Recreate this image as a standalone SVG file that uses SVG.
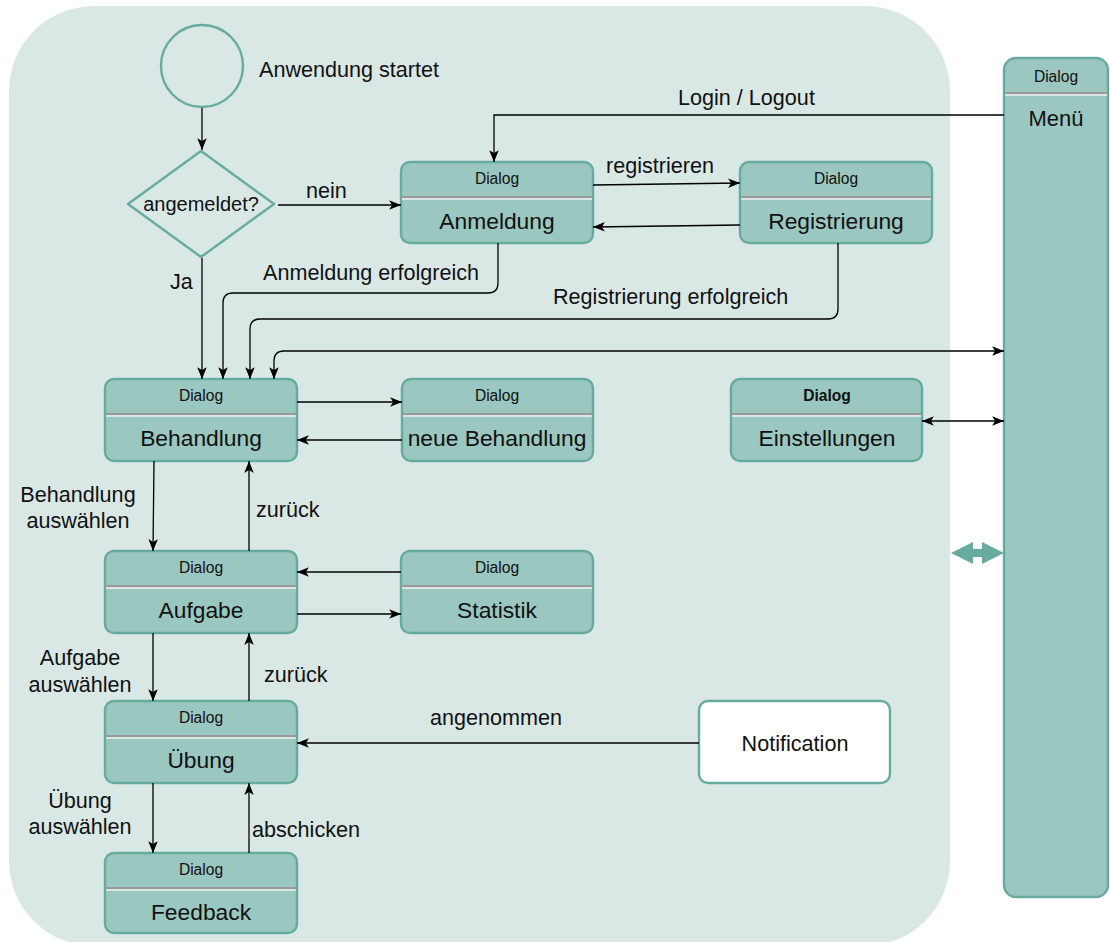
<svg xmlns="http://www.w3.org/2000/svg" width="1110" height="942" viewBox="0 0 1110 942">
<defs>
<marker id="a" viewBox="0 0 10 8" refX="10" refY="4" markerWidth="12" markerHeight="9.5" markerUnits="userSpaceOnUse" orient="auto-start-reverse"><path d="M0,0 L10,4 L0,8 L2.5,4 Z" fill="#000"/></marker>
<style>
.bg{fill:#D9E8E5}
.nd{fill:#9AC7BF;stroke:#67AB9F;stroke-width:2.4}
.sep{stroke:#999;stroke-width:2}
.sepw{stroke:#F0F0F0;stroke-width:1.5}
.hd{font-family:"Liberation Sans",Arial,sans-serif;font-size:15.6px;fill:#111;text-anchor:middle}
.tt{font-family:"Liberation Sans",Arial,sans-serif;font-size:22.8px;fill:#111;text-anchor:middle}
.lb{font-family:"Liberation Sans",Arial,sans-serif;font-size:21.6px;fill:#111}
.c{fill:none;stroke:#000;stroke-width:1.3}
.cm{text-anchor:middle}
</style>
</defs>
<rect x="0" y="0" width="1110" height="942" fill="#fff"/>
<rect class="bg" x="9" y="6" width="941" height="940" rx="85" ry="85"/>

<g id="start">
<circle cx="202" cy="66" r="41" fill="none" stroke="#67AB9F" stroke-width="2.4"/>
<text class="lb" x="259" y="77">Anwendung startet</text>
</g>
<g id="decision">
<path d="M201,151 L274,204 L201,257 L128,204 Z" fill="none" stroke="#67AB9F" stroke-width="2.4" stroke-linejoin="round"/>
<text class="lb cm" x="201" y="211" style="font-size:20px">angemeldet?</text>
</g>

<g id="anmeldung">
<rect class="nd" x="401" y="162" width="192" height="81" rx="9"/>
<line class="sep" x1="402" y1="197" x2="592" y2="197"/><line class="sepw" x1="402" y1="199" x2="592" y2="199"/>
<text class="hd" x="497" y="184">Dialog</text>
<text class="tt" x="497" y="229">Anmeldung</text>
</g>
<g id="registrierung">
<rect class="nd" x="740" y="162" width="192" height="81" rx="9"/>
<line class="sep" x1="741" y1="197" x2="931" y2="197"/><line class="sepw" x1="741" y1="199" x2="931" y2="199"/>
<text class="hd" x="836" y="184">Dialog</text>
<text class="tt" x="836" y="229">Registrierung</text>
</g>
<g id="behandlung">
<rect class="nd" x="105" y="379" width="192" height="82" rx="9"/>
<line class="sep" x1="106" y1="414" x2="296" y2="414"/><line class="sepw" x1="106" y1="416" x2="296" y2="416"/>
<text class="hd" x="201" y="401">Dialog</text>
<text class="tt" x="201" y="446">Behandlung</text>
</g>
<g id="neueBehandlung">
<rect class="nd" x="402" y="379" width="191" height="82" rx="9"/>
<line class="sep" x1="403" y1="414" x2="592" y2="414"/><line class="sepw" x1="403" y1="416" x2="592" y2="416"/>
<text class="hd" x="497" y="401">Dialog</text>
<text class="tt" x="497" y="446">neue Behandlung</text>
</g>
<g id="einstellungen">
<rect class="nd" x="731" y="379" width="191" height="82" rx="9"/>
<line class="sep" x1="732" y1="414" x2="921" y2="414"/><line class="sepw" x1="732" y1="416" x2="921" y2="416"/>
<text class="hd" x="827" y="401" font-weight="bold">Dialog</text>
<text class="tt" x="827" y="446">Einstellungen</text>
</g>
<g id="aufgabe">
<rect class="nd" x="105" y="551" width="192" height="82" rx="9"/>
<line class="sep" x1="106" y1="586" x2="296" y2="586"/><line class="sepw" x1="106" y1="588" x2="296" y2="588"/>
<text class="hd" x="201" y="573">Dialog</text>
<text class="tt" x="201" y="618">Aufgabe</text>
</g>
<g id="statistik">
<rect class="nd" x="401" y="551" width="192" height="82" rx="9"/>
<line class="sep" x1="402" y1="586" x2="592" y2="586"/><line class="sepw" x1="402" y1="588" x2="592" y2="588"/>
<text class="hd" x="497" y="573">Dialog</text>
<text class="tt" x="497" y="618">Statistik</text>
</g>
<g id="uebung">
<rect class="nd" x="105" y="701" width="192" height="82" rx="9"/>
<line class="sep" x1="106" y1="736" x2="296" y2="736"/><line class="sepw" x1="106" y1="738" x2="296" y2="738"/>
<text class="hd" x="201" y="723">Dialog</text>
<text class="tt" x="201" y="768">Übung</text>
</g>
<g id="feedback">
<rect class="nd" x="105" y="853" width="192" height="80" rx="9"/>
<line class="sep" x1="106" y1="888" x2="296" y2="888"/><line class="sepw" x1="106" y1="890" x2="296" y2="890"/>
<text class="hd" x="201" y="875">Dialog</text>
<text class="tt" x="201" y="920">Feedback</text>
</g>
<g id="notification">
<rect x="699" y="701" width="191" height="82" rx="9" fill="#fff" stroke="#67AB9F" stroke-width="2.4"/>
<text class="lb cm" x="795" y="751">Notification</text>
</g>
<g id="menu">
<rect class="nd" x="1004" y="58" width="104" height="839" rx="12"/>
<line class="sep" x1="1005" y1="93" x2="1107" y2="93"/><line class="sepw" x1="1005" y1="95" x2="1107" y2="95"/>
<text class="hd" x="1056" y="82">Dialog</text>
<text class="tt" x="1056" y="126" style="font-size:22px">Menü</text>
</g>
<g id="menuArrow">
<path d="M951,553 L973,542 L973,549 L982,549 L982,542 L1004,553 L982,564 L982,557 L973,557 L973,564 Z" fill="#67AB9F"/>
</g>

<g id="connectors">
<path class="c" d="M202,108 L202,150" marker-end="url(#a)"/>
<path class="c" d="M278,205 L401,205" marker-end="url(#a)"/>
<path class="c" d="M202,258 L202,379" marker-end="url(#a)"/>
<path class="c" d="M593,185 L740,183" marker-end="url(#a)"/>
<path class="c" d="M740,225 L593,227" marker-end="url(#a)"/>
<path class="c" d="M1004,115 L494,115 L494,162" marker-end="url(#a)"/>
<path class="c" d="M498,243 L498,283 Q498,293 488,293 L233,293 Q223,293 223,303 L223,379" marker-end="url(#a)"/>
<path class="c" d="M838,243 L838,309 Q838,319 828,319 L260,319 Q250,319 250,329 L250,379" marker-end="url(#a)"/>
<path class="c" d="M274,379 L274,361 Q274,351 284,351 L1004,351" marker-start="url(#a)" marker-end="url(#a)"/>
<path class="c" d="M297,402 L402,402" marker-end="url(#a)"/>
<path class="c" d="M402,440 L297,440" marker-end="url(#a)"/>
<path class="c" d="M922,421 L1004,421" marker-start="url(#a)" marker-end="url(#a)"/>
<path class="c" d="M154,461 L153,551" marker-end="url(#a)"/>
<path class="c" d="M249,551 L249,461" marker-end="url(#a)"/>
<path class="c" d="M401,572 L297,572" marker-end="url(#a)"/>
<path class="c" d="M297,614 L401,614" marker-end="url(#a)"/>
<path class="c" d="M153,633 L153,701" marker-end="url(#a)"/>
<path class="c" d="M249,701 L249,633" marker-end="url(#a)"/>
<path class="c" d="M699,743 L297,743" marker-end="url(#a)"/>
<path class="c" d="M153,783 L153,853" marker-end="url(#a)"/>
<path class="c" d="M249,853 L249,783" marker-end="url(#a)"/>
<text class="lb" x="306" y="198">nein</text>
<text class="lb" x="170" y="289">Ja</text>
<text class="lb" x="606" y="173">registrieren</text>
<text class="lb" x="678" y="105">Login / Logout</text>
<text class="lb" x="263" y="280">Anmeldung erfolgreich</text>
<text class="lb" x="553" y="304">Registrierung erfolgreich</text>
<text class="lb cm" x="78" y="502">Behandlung</text>
<text class="lb cm" x="78" y="528">auswählen</text>
<text class="lb" x="256" y="517">zurück</text>
<text class="lb cm" x="80" y="665">Aufgabe</text>
<text class="lb cm" x="80" y="692">auswählen</text>
<text class="lb" x="264" y="682">zurück</text>
<text class="lb" x="430" y="725">angenommen</text>
<text class="lb cm" x="80" y="808">Übung</text>
<text class="lb cm" x="80" y="834">auswählen</text>
<text class="lb" x="252" y="837">abschicken</text>
</g>
</svg>
